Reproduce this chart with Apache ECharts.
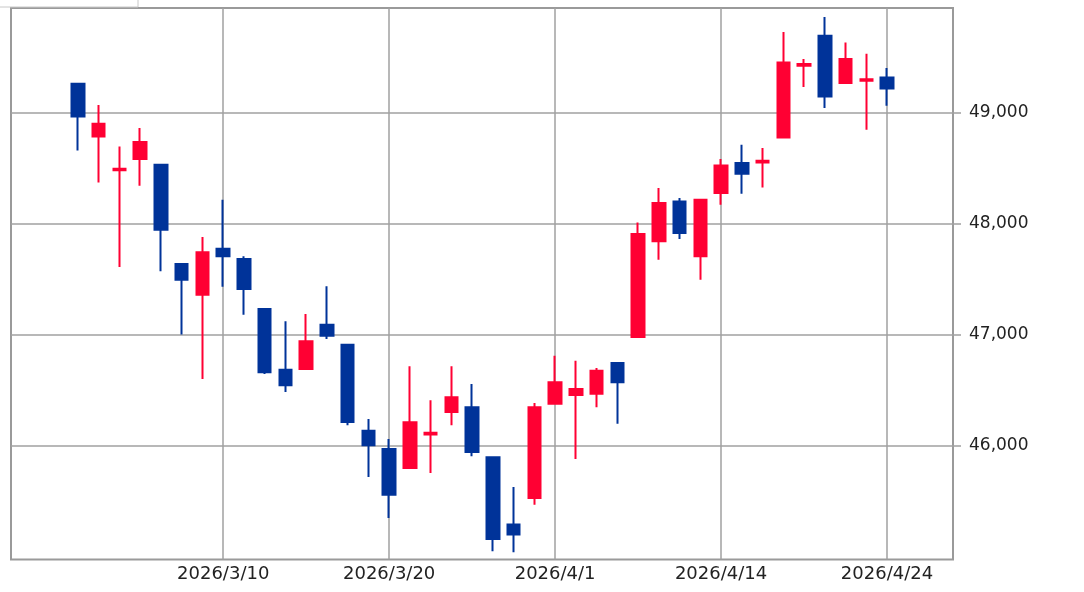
<!DOCTYPE html>
<html>
<head>
<meta charset="utf-8">
<script src="https://cdn.jsdelivr.net/npm/echarts@6/dist/echarts.min.js"></script>
<style>html,body{margin:0;padding:0;background:#fff;}#c{width:1084px;height:592px;}</style>
</head>
<body>
<div id="c"></div>
<script>
const dates = ['2026/2/27','2026/3/2','2026/3/3','2026/3/4','2026/3/5','2026/3/6','2026/3/9','2026/3/10',
  '2026/3/11','2026/3/12','2026/3/13','2026/3/16','2026/3/17','2026/3/18','2026/3/19','2026/3/20',
  '2026/3/23','2026/3/24','2026/3/25','2026/3/26','2026/3/27','2026/3/30','2026/3/31','2026/4/1',
  '2026/4/2','2026/4/6','2026/4/7','2026/4/8','2026/4/9','2026/4/10','2026/4/13','2026/4/14',
  '2026/4/15','2026/4/16','2026/4/17','2026/4/20','2026/4/21','2026/4/22','2026/4/23','2026/4/24'];
const opens  = [49258,48784,48480,48581,48529,47635,47359,47773,47680,47230,46684,46690,47089,46909,46135,45970,
  45799,46100,46303,46345,45895,45289,45529,46378,46455,46468,46745,46978,47839,48199,47704,48275,
  48545,48550,48775,49420,49690,49265,49285,49315];
const closes = [48964,48898,48492,48734,47944,47494,47740,47704,47410,46660,46543,46939,46990,46213,46003,45559,
  46210,46115,46435,45943,45160,45199,46345,46570,46510,46675,46570,47905,48185,47914,48214,48523,
  48448,48565,49450,49435,49144,49481,49298,49216];
const lows   = [48658,48370,47608,48340,47569,47000,46600,47430,47179,46645,46483,46690,46960,46183,45718,45349,
  45799,45754,46183,45904,45049,45040,45469,46378,45880,46345,46198,46975,47674,47860,47494,48169,
  48268,48325,48775,49229,49040,49260,48844,49060];
const highs  = [49262,49067,48694,48860,48529,47640,47879,48214,47704,47235,47119,47185,47434,46915,46240,46060,
  46714,46408,46714,46555,45898,45628,46384,46810,46765,46700,46750,48010,48320,48230,48214,48580,
  48709,48680,49724,49481,49859,49630,49528,49400];
const yTicks = [46000, 47000, 48000, 49000];
const labelDates = ['2026/3/10','2026/3/20','2026/4/1','2026/4/14','2026/4/24'];

const candles = dates.map((d, i) => [opens[i], closes[i], lows[i], highs[i]]);
const yMin = 44975, yMax = 49940;
const showIdx = (i) => labelDates.includes(dates[i]);

const chart = echarts.init(document.getElementById('c'), null, {renderer: 'canvas'});
chart.setOption({
  animation: false,
  backgroundColor: '#ffffff',
  textStyle: {fontFamily: 'DejaVu Sans'},
  grid: [
    {left: 11, right: 131, top: 8, bottom: 32.5, show: true, borderColor: '#9a9a9a', borderWidth: 2, backgroundColor: 'transparent'},
    {left: 78, right: 197, top: 8, bottom: 32.5}
  ],
  xAxis: [
    {type: 'category', gridIndex: 0, data: dates, show: false},
    {
      type: 'category', gridIndex: 1, data: dates, boundaryGap: false,
      axisLine: {show: false},
      axisTick: {show: false},
      axisLabel: {
        interval: (i) => showIdx(i), margin: 6, color: '#222', fontSize: 18, fontFamily: 'DejaVu Sans'
      },
      splitLine: {show: true, interval: (i) => showIdx(i), lineStyle: {color: '#a0a0a0', width: 1.5}}
    }
  ],
  yAxis: [
    {
      type: 'value', gridIndex: 0, position: 'right', min: yMin, max: yMax,
      axisLine: {show: false},
      axisTick: {show: true, length: 8, customValues: yTicks, lineStyle: {color: '#a0a0a0', width: 1.5}},
      axisLabel: {
        customValues: yTicks, margin: 16, color: '#222', fontSize: 17, fontFamily: 'DejaVu Sans',
        formatter: (v) => v.toLocaleString('en-US')
      },
      splitLine: {show: true, lineStyle: {color: '#a0a0a0', width: 1.5}}
    },
    {type: 'value', gridIndex: 1, min: yMin, max: yMax, show: false, splitLine: {show: false}}
  ],
  series: [{
    type: 'candlestick', xAxisIndex: 1, yAxisIndex: 1,
    data: candles, barWidth: 13,
    itemStyle: {color: '#ff0033', color0: '#003399', borderColor: '#ff0033', borderColor0: '#003399', borderWidth: 2}
  }],
  graphic: [
    {type: 'rect', shape: {x: -2, y: -2, width: 140, height: 9}, style: {fill: '#fff', stroke: '#c8c8c8', lineWidth: 1}}
  ]
});
</script>
</body>
</html>
